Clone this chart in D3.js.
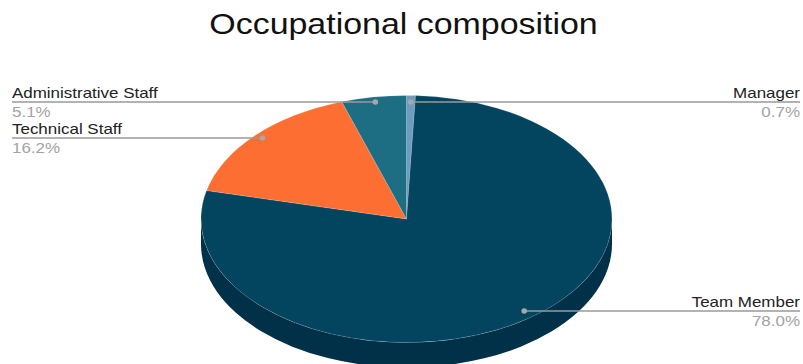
<!DOCTYPE html>
<html>
<head>
<meta charset="utf-8">
<script src="https://cdn.jsdelivr.net/npm/d3@7/dist/d3.min.js"></script>
<style>
  html, body { margin: 0; padding: 0; background: #fff; }
  svg { display: block; font-family: "Liberation Sans", Arial, sans-serif; }
</style>
</head>
<body>
<svg id="chart" width="803" height="364"></svg>
<script>
// Occupational composition, clockwise from 12 o'clock
const categories = ["Manager", "Team Member", "Technical Staff", "Administrative Staff"];
const shares = [0.7, 78.0, 16.2, 5.1];
const percentLabels = ["0.7%", "78.0%", "16.2%", "5.1%"];
const palette = ["#6c9cbf", "#03445f", "#fd6e33", "#1d6e83"];
const sidePalette = ["#4f7a98", "#013049", "#c24d1e", "#115163"];

const svg = d3.select("#chart");
const W = 803;

// tilted pie geometry
const cx = 406.5, cy = 219, rx = 205.5, ry = 123.5, depth = 25;
const stretch = 1.17; // horizontal text stretch

// title
svg.append("text")
  .attr("transform", `translate(${W / 2 + 2},33.5) scale(${stretch},1)`)
  .attr("text-anchor", "middle")
  .attr("font-size", 29)
  .attr("fill", "#111")
  .text("Occupational composition");

const pie = d3.pie().sort(null).value(d => d).startAngle(0).endAngle(2 * Math.PI);
const arcs = pie(shares);

// map an angle (0 = top, clockwise) to the projected ellipse
const ex = a => cx + rx * Math.sin(a);
const ey = a => cy - ry * Math.cos(a);

// side walls: only the front half (between 90 and 270 degrees) is visible
const sideG = svg.append("g");
arcs.forEach((d, i) => {
  const a0 = Math.max(d.startAngle, Math.PI / 2);
  const a1 = Math.min(d.endAngle, 3 * Math.PI / 2);
  if (a1 <= a0) return;
  const large = (a1 - a0) > Math.PI ? 1 : 0;
  const p = `M${ex(a0)},${ey(a0)}` +
    ` A${rx},${ry} 0 ${large} 1 ${ex(a1)},${ey(a1)}` +
    ` L${ex(a1)},${ey(a1) + depth}` +
    ` A${rx},${ry} 0 ${large} 0 ${ex(a0)},${ey(a0) + depth} Z`;
  sideG.append("path").attr("d", p).attr("fill", sidePalette[i]);
});

// top face: circular arcs squashed vertically into the ellipse
const arcGen = d3.arc().innerRadius(0).outerRadius(rx);
const topG = svg.append("g")
  .attr("transform", `translate(${cx},${cy}) scale(1,${ry / rx})`);
topG.selectAll("path.slice")
  .data(arcs)
  .join("path")
  .attr("class", "slice")
  .attr("d", arcGen)
  .attr("fill", (d, i) => palette[i])
  .attr("stroke", "rgba(255,255,255,0.25)")
  .attr("stroke-width", 0.6)
  .attr("vector-effect", "non-scaling-stroke");

// leader lines and labels
const labelSide = ["right", "right", "left", "left"];
const labelG = svg.append("g");
const dotR = 0.95;
const labelRows = {
  "Manager": 98,
  "Team Member": 307,
  "Technical Staff": 134,
  "Administrative Staff": 98
};
arcs.forEach((d, i) => {
  const mid = (d.startAngle + d.endAngle) / 2;
  const dx = cx + dotR * rx * Math.sin(mid);
  const dy = cy - dotR * ry * Math.cos(mid);
  const base = labelRows[categories[i]];
  const lineY = base + 4;
  const right = labelSide[i] === "right";
  const xEdge = right ? 800 : 12;
  labelG.append("line")
    .attr("x1", dx).attr("y1", lineY)
    .attr("x2", xEdge).attr("y2", lineY)
    .attr("stroke", "#9a9a9a").attr("stroke-width", 1.3);
  labelG.append("circle")
    .attr("cx", dx).attr("cy", lineY).attr("r", 2.8)
    .attr("fill", "#a8a8a8");
  const anchor = right ? "end" : "start";
  labelG.append("text")
    .attr("transform", `translate(${xEdge},${base}) scale(${stretch},1)`)
    .attr("text-anchor", anchor)
    .attr("font-size", 14.5)
    .attr("fill", "#222")
    .text(categories[i]);
  labelG.append("text")
    .attr("transform", `translate(${xEdge},${base + 19}) scale(${stretch},1)`)
    .attr("text-anchor", anchor)
    .attr("font-size", 14.5)
    .attr("fill", "#a3a3a3")
    .text(percentLabels[i]);
});
</script>
</body>
</html>
